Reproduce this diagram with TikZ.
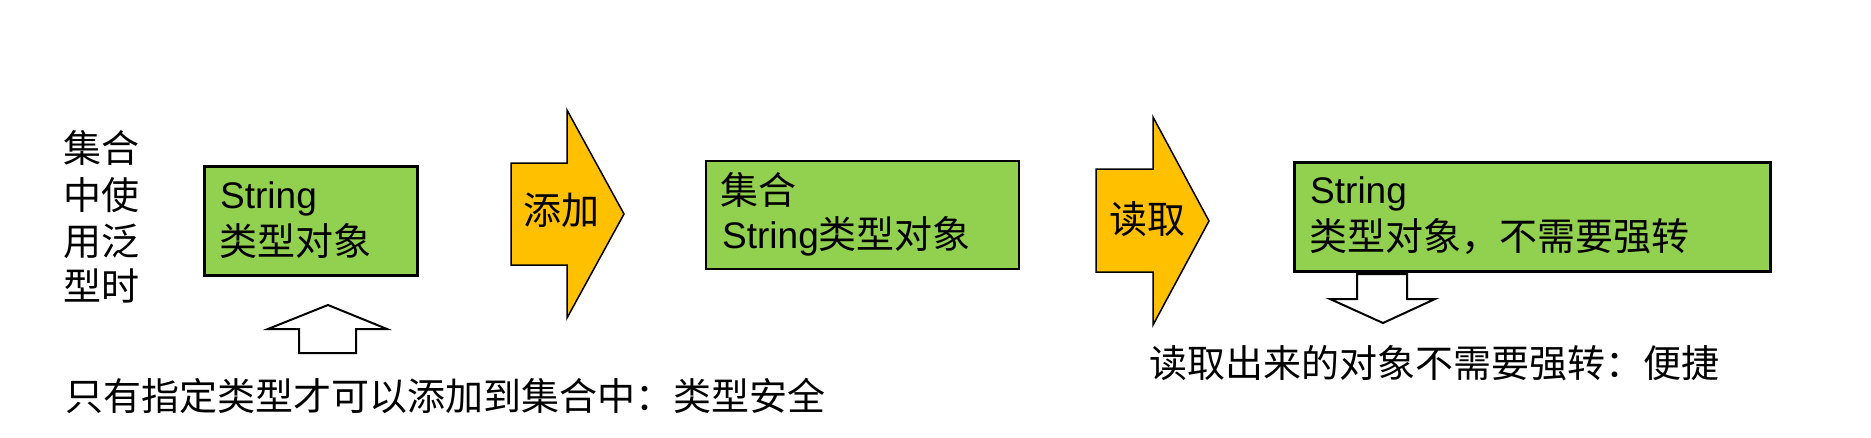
\documentclass[tikz,border=0pt]{standalone}
\usepackage{fontspec}
\setmainfont{Liberation Sans}
\newfontfamily\cjk{Noto Sans CJK SC}
\definecolor{boxgreen}{HTML}{92D050}
\definecolor{arroworange}{HTML}{FFC000}
\begin{document}
\begin{tikzpicture}[x=1pt,y=-1pt,
  txt/.style={inner sep=0pt, anchor=base west, font=\fontsize{38}{46}\selectfont\cjk},
  lat/.style={inner sep=0pt, anchor=base west, font=\fontsize{37}{46}\selectfont},
  greenbox/.style={draw=black, fill=boxgreen, rectangle, inner sep=0pt, anchor=north west},
  blockarrow/.style={draw=black, fill=arroworange, line width=1.5pt, line join=miter},
  hollowarrow/.style={draw=black, fill=white, line width=2pt, line join=miter}]
\useasboundingbox (0,0) rectangle (1871,437);

% left vertical text
\node[txt] (l1) at (63,162) {集合};
\node[txt] (l2) at (63,209) {中使};
\node[txt] (l3) at (63,255) {用泛};
\node[txt] (l4) at (63,300) {型时};

% box 1
\node[greenbox, line width=2.5pt, minimum width=213pt, minimum height=109pt] (b1) at (203,165) {};
\node[lat] (b1a) at (220,208) {String};
\node[txt] (b1b) at (219,255) {类型对象};

% arrow 1
\path[blockarrow] (511,163) -- (567,163) -- (567,110) -- (624,214) -- (567,318) -- (567,265) -- (511,265) -- cycle;
\node[txt] (a1) at (523,224) {添加};

% box 2
\node[greenbox, line width=2pt, minimum width=313pt, minimum height=108pt] (b2) at (705,160) {};
\node[txt] (b2a) at (720,204) {集合};
\node[lat] (b2b) at (722,248) {String{\cjk\fontsize{38}{46}\selectfont 类型对象}};

% arrow 2
\path[blockarrow] (1096,169) -- (1153,169) -- (1153,117) -- (1209,221) -- (1153,325) -- (1153,272) -- (1096,272) -- cycle;
\node[txt] (a2) at (1109,233) {读取};

% box 3
\node[greenbox, line width=2.5pt, minimum width=476pt, minimum height=109pt] (b3) at (1293,161) {};
\node[lat] (b3a) at (1310,203) {String};
\node[txt] (b3b) at (1309,250) {类型对象，不需要强转};

% hollow up arrow
\path[hollowarrow] (328,305) -- (387,329) -- (356,329) -- (356,353) -- (299,353) -- (299,329) -- (268,329) -- cycle;
% hollow down arrow
\path[hollowarrow] (1357,274) -- (1407,274) -- (1407,299) -- (1435,299) -- (1383,323) -- (1330,299) -- (1357,299) -- cycle;

% bottom texts
\node[txt] (n1) at (65,410) {只有指定类型才可以添加到集合中：类型安全};
\node[txt] (n2) at (1149,377) {读取出来的对象不需要强转：便捷};
\end{tikzpicture}
\end{document}
